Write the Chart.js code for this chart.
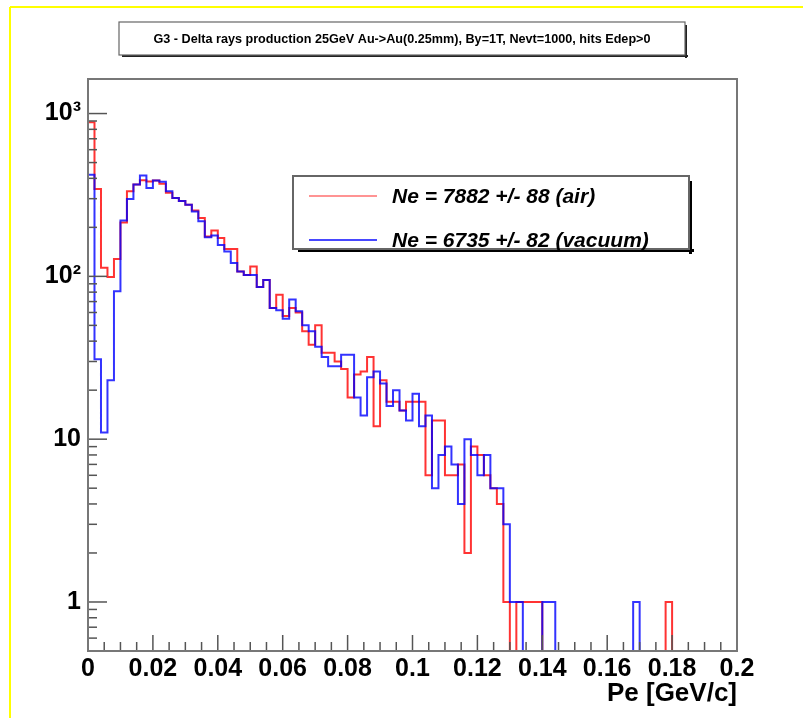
<!DOCTYPE html>
<html>
<head>
<meta charset="utf-8">
<script src="https://cdn.jsdelivr.net/npm/chart.js@4"></script>
<style>
  html, body { margin: 0; padding: 0; background: #fff; }
  #wrap { width: 803px; height: 718px; }
</style>
</head>
<body>
<div id="wrap"><canvas id="deltaChart" width="803" height="718"></canvas></div>
<script>
const plotTitle = 'G3 - Delta rays production 25GeV Au->Au(0.25mm), By=1T, Nevt=1000, hits Edep>0';
const xTitle = 'Pe [GeV/c]';

// histogram binning: 100 bins from 0 to 0.2 GeV/c
const xMin = 0, xMax = 0.2, nBins = 100;
const binEdges = Array.from({ length: nBins + 1 }, (_, i) => +(xMin + i * (xMax - xMin) / nBins).toFixed(4));

// bin contents
const airCounts = [
  883, 344, 113, 99, 128, 214, 333, 366, 390, 383,
  388, 370, 326, 303, 290, 275, 254, 228, 176, 191,
  172, 147, 147, 107, 102, 115, 86, 95, 64, 77,
  57, 64, 60, 46, 38, 50, 34, 34, 30, 27,
  18, 25, 26, 32, 12, 23, 17, 17, 15, 17,
  17, 17, 6, 13, 13, 6, 6, 7, 2, 9,
  8, 6, 5, 4, 1, 0, 1, 1, 1, 1,
  0, 0, 0, 0, 0, 0, 0, 0, 0, 0,
  0, 0, 0, 0, 0, 0, 0, 0, 0, 1,
  0, 0, 0, 0, 0, 0, 0, 0, 0, 0
];
const vacuumCounts = [
  421, 31, 11, 23, 81, 220, 299, 366, 417, 349,
  388, 381, 333, 303, 290, 275, 250, 218, 174, 178,
  156, 142, 121, 107, 102, 102, 86, 95, 64, 62,
  55, 72, 61, 50, 46, 37, 32, 28, 28, 33,
  33, 18, 14, 24, 26, 22, 16, 20, 15, 13,
  19, 12, 14, 5, 8, 9, 7, 4, 10, 8,
  6, 8, 5, 5, 3, 1, 1, 0, 0, 0,
  1, 1, 0, 0, 0, 0, 0, 0, 0, 0,
  0, 0, 0, 0, 1, 0, 0, 0, 0, 0,
  0, 0, 0, 0, 0, 0, 0, 0, 0, 0
];
const airLabel = 'Ne = 7882 +/- 88 (air)';
const vacuumLabel = 'Ne = 6735 +/- 82 (vacuum)';

const xTicks = [0, 0.02, 0.04, 0.06, 0.08, 0.1, 0.12, 0.14, 0.16, 0.18, 0.2];
const yTicks = [1, 10, 100, 1000];
const yTickLabels = ['1', '10', '10\u00b2', '10\u00b3'];
const yMin = 0.5, yMax = 1630;

const FONT = 'Liberation Sans, Arial, Helvetica, sans-serif';

// empty bins sit on the axis floor, as ROOT draws them on a log scale
function toSteps(counts) {
  const pts = counts.map((c, i) => ({ x: binEdges[i], y: c > 0 ? c : yMin }));
  pts.push({ x: binEdges[nBins], y: pts[nBins - 1].y });
  return pts;
}

function line(ctx, x1, y1, x2, y2) {
  ctx.beginPath();
  ctx.moveTo(x1, y1);
  ctx.lineTo(x2, y2);
  ctx.stroke();
}

const rootStyle = {
  id: 'rootStyle',
  beforeDraw(chart) {
    const ctx = chart.ctx;
    ctx.save();
    ctx.fillStyle = '#fff';
    ctx.fillRect(0, 0, chart.width, chart.height);

    // yellow pad edge
    ctx.strokeStyle = '#ffff00';
    ctx.lineWidth = 2;
    line(ctx, 10, 7, chart.width, 7);
    line(ctx, 10, 7, 10, chart.height);

    // title box with shadow
    const tb = { l: 119, t: 22, r: 685, b: 55 };
    ctx.fillStyle = '#222';
    ctx.fillRect(tb.l + 3, tb.b, tb.r - tb.l, 2);
    ctx.fillRect(tb.r, tb.t + 3, 2, tb.b - tb.t);
    ctx.fillStyle = '#fff';
    ctx.fillRect(tb.l, tb.t, tb.r - tb.l, tb.b - tb.t);
    ctx.strokeStyle = '#666';
    ctx.lineWidth = 1.2;
    ctx.strokeRect(tb.l, tb.t, tb.r - tb.l, tb.b - tb.t);
    ctx.font = 'bold 13px ' + FONT;
    ctx.fillStyle = '#000';
    ctx.textAlign = 'center';
    ctx.textBaseline = 'middle';
    const w = ctx.measureText(plotTitle).width;
    ctx.translate((tb.l + tb.r) / 2, 39);
    ctx.scale(497 / w, 1);
    ctx.fillText(plotTitle, 0, 0);
    ctx.restore();
  },
  afterDatasetsDraw(chart) {
    const ctx = chart.ctx;
    const a = chart.chartArea;
    const xs = chart.scales.x, ys = chart.scales.y;
    ctx.save();

    // ticks, drawn inward like ROOT
    ctx.strokeStyle = '#555';
    ctx.lineWidth = 1.5;
    for (let k = 0; k <= 40; k++) {
      const px = xs.getPixelForValue(k * 0.005);
      line(ctx, px, a.bottom, px, a.bottom - (k % 4 === 0 ? 16 : 9));
    }
    for (let e = -1; e <= 3; e++) {
      for (let m = 1; m <= 9; m++) {
        const v = m * Math.pow(10, e);
        if (v < ys.min || v > ys.max) continue;
        const py = ys.getPixelForValue(v);
        line(ctx, a.left, py, a.left + (m === 1 ? 19 : 9), py);
      }
    }

    // frame
    ctx.strokeStyle = '#777';
    ctx.lineWidth = 2;
    ctx.strokeRect(a.left, a.top, a.right - a.left, a.bottom - a.top);

    // legend box
    const lb = { l: 293, t: 176, r: 689, b: 249 };
    ctx.fillStyle = '#000';
    ctx.fillRect(lb.l + 5, lb.b, lb.r - lb.l, 3);
    ctx.fillRect(lb.r, lb.t + 5, 3, lb.b - lb.t);
    ctx.fillStyle = '#fff';
    ctx.fillRect(lb.l, lb.t, lb.r - lb.l, lb.b - lb.t);
    ctx.strokeStyle = '#666';
    ctx.lineWidth = 2;
    ctx.strokeRect(lb.l, lb.t, lb.r - lb.l, lb.b - lb.t);

    const rows = [chart.data.datasets[1], chart.data.datasets[0]];
    const rowY = [196, 240];
    ctx.font = 'italic bold 21px ' + FONT;
    ctx.textAlign = 'left';
    ctx.textBaseline = 'middle';
    rows.forEach((ds, i) => {
      ctx.strokeStyle = ds.legendColor;
      ctx.lineWidth = 2;
      line(ctx, 309, rowY[i], 377, rowY[i]);
      ctx.fillStyle = '#000';
      ctx.fillText(ds.label, 392, rowY[i] + 1);
    });
    ctx.restore();
  }
};

const ctx = document.getElementById('deltaChart').getContext('2d');
new Chart(ctx, {
  type: 'line',
  data: {
    datasets: [
      {
        label: vacuumLabel,
        data: toSteps(vacuumCounts),
        borderColor: 'rgba(0, 0, 255, 0.8)',
        legendColor: 'rgba(40, 40, 255, 0.85)',
        borderWidth: 2,
        stepped: 'before',
        pointRadius: 0,
        fill: false,
        order: 0
      },
      {
        label: airLabel,
        data: toSteps(airCounts),
        borderColor: 'rgba(255, 0, 0, 0.8)',
        legendColor: 'rgba(255, 120, 120, 0.8)',
        borderWidth: 2,
        stepped: 'before',
        pointRadius: 0,
        fill: false,
        order: 1
      }
    ]
  },
  options: {
    responsive: false,
    animation: false,
    devicePixelRatio: 1,
    layout: { padding: { left: 0, top: 79, right: 66, bottom: 0 } },
    plugins: {
      legend: { display: false },
      tooltip: { enabled: false },
      title: { display: false }
    },
    scales: {
      x: {
        type: 'linear',
        min: xMin,
        max: xMax,
        afterBuildTicks: s => { s.ticks = xTicks.map(v => ({ value: v })); },
        afterFit: s => { s.height = 67; },
        grid: { display: false, drawTicks: false },
        border: { display: false },
        ticks: {
          autoSkip: false,
          maxRotation: 0,
          padding: 3,
          color: '#000',
          font: { family: FONT, size: 25, weight: 'bold' },
          callback: v => String(+v.toFixed(2))
        },
        title: {
          display: true,
          text: xTitle,
          align: 'end',
          color: '#000',
          font: { family: FONT, size: 26, weight: 'bold' },
          padding: { top: 0, bottom: 9 }
        }
      },
      y: {
        type: 'logarithmic',
        min: yMin,
        max: yMax,
        afterBuildTicks: s => { s.ticks = yTicks.map(v => ({ value: v })); },
        afterFit: s => { s.width = 88; },
        grid: { display: false, drawTicks: false },
        border: { display: false },
        ticks: {
          padding: 7,
          color: '#000',
          font: { family: FONT, size: 25, weight: 'bold' },
          callback: v => yTickLabels[yTicks.indexOf(v)]
        }
      }
    }
  },
  plugins: [rootStyle]
});
</script>
</body>
</html>
